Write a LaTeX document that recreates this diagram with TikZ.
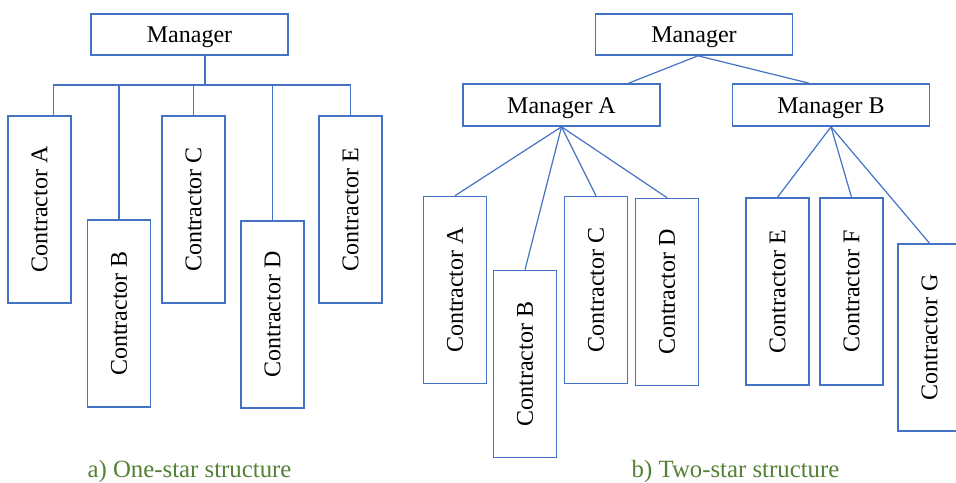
\documentclass[tikz,border=0pt]{standalone}
\usepackage{fontspec}
\setmainfont{Liberation Serif}
\usepackage{graphicx}
\usepackage{tikz}
\usetikzlibrary{calc}
\usepackage{xcolor}
\definecolor{boxblue}{HTML}{4472C4}
\definecolor{capgreen}{HTML}{538135}
\tikzset{
  mgrbox/.style={draw=boxblue, line width=0.8pt, minimum width=98.5pt, minimum height=20.5pt, inner sep=0pt, text height=8.4pt, text depth=0pt, font=\fontsize{12}{14}\selectfont},
  conbox/.style={draw=boxblue, line width=0.8pt, minimum width=31.5pt, minimum height=93.5pt, inner sep=0pt, font=\fontsize{12}{14}\selectfont},
  link/.style={draw=boxblue, line width=0.6pt},
  caption/.style={text=capgreen, anchor=base, font=\fontsize{12.4}{14}\selectfont}
}
\newcommand{\vlabel}[1]{\rotatebox{90}{#1}}

\begin{document}
\begin{tikzpicture}[x=0.5pt, y=-0.5pt]
  \useasboundingbox (0,0) rectangle (956,482);
  % a) one-star structure
  \node[mgrbox] (mgr) at (189.5,34.5) {Manager};
  \node[conbox] (ca) at (39.5,209.5) {\vlabel{Contractor A}};
  \node[conbox] (cb) at (119,313.5) {\vlabel{Contractor B}};
  \node[conbox] (cc) at (193.5,209.5) {\vlabel{Contractor C}};
  \node[conbox] (cd) at (272.5,314.5) {\vlabel{Contractor D}};
  \node[conbox] (ce) at (350.5,209.5) {\vlabel{Contractor E}};
  \coordinate (hub) at (205,85);
  \draw[link] (hub |- mgr.south) -- (hub);
  \draw[link] ($(ca.north)+(14,0)$) |- (ce.north |- hub) -- (ce.north);
  \foreach \c in {cb,cc,cd}
    \draw[link] (\c.north) -- (\c.north |- hub);

  % b) two-star structure
  \node[mgrbox] (top) at (694,34.5) {Manager};
  \node[mgrbox, minimum height=21pt] (mga) at (561.5,105) {Manager A};
  \node[mgrbox, minimum height=21pt] (mgb) at (831,105) {Manager B};
  \draw[link] ($(top.south)+(4,0)$) -- ($(mga.north)+(67,0)$);
  \draw[link] ($(top.south)+(4,0)$) -- ($(mgb.north)+(-22,0)$);
  \node[conbox] (ta) at (455,290) {\vlabel{Contractor A}};
  \node[conbox] (tb) at (525,364) {\vlabel{Contractor B}};
  \node[conbox] (tc) at (596,290) {\vlabel{Contractor C}};
  \node[conbox] (td) at (667,292) {\vlabel{Contractor D}};
  \node[conbox] (te) at (777.5,291.5) {\vlabel{Contractor E}};
  \node[conbox] (tf) at (851.5,291.5) {\vlabel{Contractor F}};
  \node[conbox] (tg) at (929.5,337.5) {\vlabel{Contractor G}};
  \foreach \c in {ta,tb,tc,td}
    \draw[link] (mga.south) -- (\c.north);
  \foreach \c in {te,tf,tg}
    \draw[link] (mgb.south) -- (\c.north);

  % captions
  \node[caption] (capa) at (189.5,477) {a) One-star structure};
  \node[caption] (capb) at (735.5,477) {b) Two-star structure};
\end{tikzpicture}
\end{document}
